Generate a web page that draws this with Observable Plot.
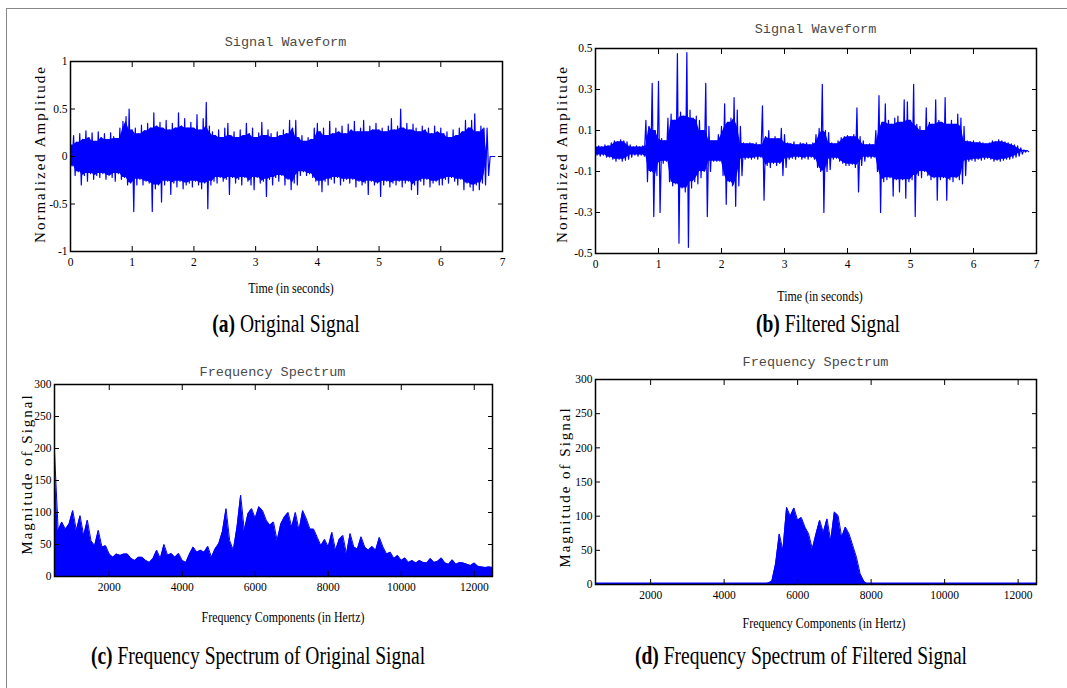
<!DOCTYPE html>
<html><head><meta charset="utf-8">
<script src="https://cdn.jsdelivr.net/npm/d3@7"></script>
<script src="https://cdn.jsdelivr.net/npm/@observablehq/plot@0.6"></script>
<style>
html,body{margin:0;padding:0;background:#fff;}
#fig{position:relative;width:1067px;height:688px;overflow:hidden;background:#fff;}
.abs{position:absolute;white-space:nowrap;line-height:1;}
.title{font-family:"Liberation Mono","DejaVu Sans Mono",monospace;font-size:13.5px;color:#4a4a4a;transform:translate(-50%,-50%);}
.xlab{font-family:"Liberation Serif",serif;font-size:14.5px;color:#000;transform:translate(-50%,-50%) scaleX(0.82);}
.ylab{font-family:"Liberation Serif",serif;font-size:15px;letter-spacing:2px;color:#000;transform:translate(-50%,-50%) rotate(-90deg);}
.cap{font-family:"Liberation Serif",serif;font-size:25px;color:#000;transform:translate(-50%,-50%) scaleX(0.78);}
.bt{position:absolute;left:6px;top:8px;width:1061px;height:0;border-top:1px solid #888;}
.bl{position:absolute;left:6px;top:8px;width:0;height:680px;border-left:1px solid #888;}
</style></head><body><div id="fig"><div class="bt"></div><div class="bl"></div></div>
<script>
// ---------- DATA ----------
const timeStep = 0.05; // seconds between envelope samples
const timeTicks = [0,1,2,3,4,5,6,7];
const ampTicksA = [-1,-0.5,0,0.5,1];
const ampTicksB = [-0.5,-0.3,-0.1,0.1,0.3,0.5];
const freqTicks = [2000,4000,6000,8000,10000,12000];
const magTicks = [0,50,100,150,200,250,300];

// (a) original signal: upper / lower excursions per 0.05 s
const origTop = [0.12,0.22,0.15,0.24,0.18,0.27,0.2,0.25,0.16,0.26,
 0.2,0.24,0.18,0.25,0.21,0.19,0.3,0.37,0.42,0.5,
 0.28,0.3,0.24,0.33,0.27,0.35,0.3,0.46,0.32,0.36,
 0.3,0.38,0.28,0.35,0.3,0.46,0.32,0.4,0.3,0.36,
 0.3,0.44,0.28,0.4,0.57,0.32,0.26,0.22,0.28,0.2,
 0.3,0.35,0.22,0.26,0.2,0.28,0.22,0.35,0.24,0.3,
 0.2,0.25,0.36,0.22,0.28,0.24,0.2,0.26,0.22,0.28,
 0.24,0.38,0.3,0.38,0.2,0.22,0.16,0.2,0.18,0.3,
 0.35,0.26,0.3,0.22,0.37,0.24,0.3,0.26,0.32,0.24,
 0.34,0.28,0.37,0.26,0.3,0.38,0.26,0.32,0.28,0.35,
 0.28,0.3,0.26,0.32,0.4,0.28,0.32,0.5,0.3,0.35,
 0.28,0.34,0.3,0.26,0.32,0.28,0.3,0.24,0.32,0.26,
 0.3,0.24,0.26,0.2,0.28,0.22,0.3,0.26,0.38,0.3,
 0.38,0.45,0.26,0.32,0.3,0.3,0,0];
const origBottom = [-0.1,-0.2,-0.16,-0.3,-0.2,-0.26,-0.18,-0.24,-0.2,-0.22,
 -0.18,-0.24,-0.2,-0.22,-0.26,-0.18,-0.24,-0.22,-0.3,-0.28,
 -0.58,-0.3,-0.24,-0.3,-0.26,-0.28,-0.58,-0.34,-0.3,-0.48,
 -0.3,-0.26,-0.4,-0.28,-0.32,-0.26,-0.34,-0.3,-0.28,-0.32,
 -0.26,-0.3,-0.34,-0.28,-0.55,-0.3,-0.26,-0.28,-0.22,-0.26,
 -0.24,-0.4,-0.22,-0.28,-0.24,-0.3,-0.22,-0.26,-0.3,-0.35,
 -0.22,-0.28,-0.26,-0.42,-0.24,-0.3,-0.22,-0.26,-0.2,-0.3,
 -0.24,-0.35,-0.28,-0.3,-0.2,-0.16,-0.2,-0.18,-0.22,-0.26,
 -0.3,-0.37,-0.26,-0.3,-0.24,-0.28,-0.22,-0.3,-0.26,-0.24,
 -0.28,-0.24,-0.32,-0.26,-0.3,-0.28,-0.4,-0.26,-0.3,-0.28,
 -0.42,-0.3,-0.26,-0.32,-0.28,-0.3,-0.26,-0.32,-0.28,-0.26,
 -0.35,-0.3,-0.4,-0.26,-0.3,-0.24,-0.32,-0.28,-0.26,-0.3,
 -0.3,-0.24,-0.28,-0.22,-0.26,-0.3,-0.24,-0.35,-0.28,-0.32,
 -0.36,-0.3,-0.35,-0.28,-0.3,-0.2,0,0];

// (b) filtered signal: upper / lower excursions per 0.05 s
const filtTop = [0.02,0.025,0.02,0.03,0.025,0.04,0.05,0.045,0.055,0.05,
 0.045,0.03,0.02,0.025,0.02,0.025,0.15,0.12,0.33,0.1,
 0.34,0.06,0.05,0.16,0.18,0.15,0.475,0.19,0.17,0.48,
 0.2,0.16,0.17,0.15,0.1,0.33,0.12,0.05,0.05,0.08,
 0.12,0.23,0.14,0.16,0.26,0.2,0.12,0.04,0.035,0.04,
 0.035,0.04,0.03,0.22,0.07,0.1,0.06,0.07,0.06,0.11,
 0.08,0.04,0.035,0.045,0.03,0.04,0.035,0.04,0.03,0.04,
 0.08,0.11,0.325,0.1,0.09,0.04,0.035,0.05,0.065,0.07,
 0.075,0.07,0.08,0.21,0.07,0.05,0.03,0.035,0.03,0.1,
 0.27,0.14,0.23,0.15,0.13,0.16,0.17,0.14,0.25,0.24,
 0.15,0.325,0.13,0.12,0.1,0.21,0.14,0.13,0.25,0.15,
 0.14,0.26,0.13,0.15,0.13,0.18,0.16,0.12,0.05,0.045,
 0.05,0.04,0.045,0.04,0.035,0.04,0.05,0.045,0.055,0.05,
 0.045,0.04,0.035,0.03,0.025,0.015,0.005,0.003];
const filtBottom = [-0.02,-0.025,-0.02,-0.03,-0.03,-0.04,-0.05,-0.04,-0.05,-0.045,
 -0.04,-0.03,-0.02,-0.025,-0.02,-0.025,-0.15,-0.1,-0.32,-0.12,
 -0.3,-0.06,-0.05,-0.15,-0.17,-0.16,-0.45,-0.18,-0.2,-0.47,
 -0.18,-0.15,-0.16,-0.13,-0.1,-0.32,-0.1,-0.05,-0.05,-0.05,
 -0.12,-0.26,-0.15,-0.17,-0.27,-0.17,-0.12,-0.04,-0.035,-0.04,
 -0.035,-0.04,-0.03,-0.24,-0.07,-0.08,-0.06,-0.07,-0.06,-0.12,
 -0.08,-0.04,-0.035,-0.04,-0.03,-0.04,-0.035,-0.04,-0.03,-0.04,
 -0.08,-0.1,-0.3,-0.1,-0.09,-0.04,-0.035,-0.05,-0.06,-0.07,
 -0.07,-0.065,-0.08,-0.2,-0.07,-0.05,-0.03,-0.035,-0.03,-0.1,
 -0.3,-0.15,-0.14,-0.13,-0.22,-0.14,-0.2,-0.14,-0.23,-0.15,
 -0.14,-0.32,-0.12,-0.13,-0.1,-0.12,-0.14,-0.13,-0.24,-0.14,
 -0.13,-0.24,-0.14,-0.15,-0.13,-0.14,-0.16,-0.12,-0.05,-0.045,
 -0.05,-0.04,-0.045,-0.04,-0.035,-0.04,-0.05,-0.045,-0.05,-0.045,
 -0.04,-0.04,-0.035,-0.03,-0.025,-0.015,-0.005,-0.003];

// (c) spectrum of original signal, 100 Hz bins from 500 Hz
const specStartC = 500, specStep = 100;
const specOrig = [195,72,85,74,82,103,72,95,64,88,
 56,48,72,46,48,35,30,35,33,35,
 35,28,25,30,30,25,22,28,41,28,
 50,33,36,30,36,25,22,35,46,38,
 41,38,47,30,43,51,70,106,56,41,
 77,127,72,98,106,91,109,103,88,80,
 85,56,82,93,100,77,100,72,103,90,
 74,74,61,48,58,46,69,41,58,64,
 35,67,46,43,62,46,41,47,41,61,
 46,35,38,28,33,25,29,22,25,21,
 25,22,21,28,22,24,29,21,19,26,
 19,22,21,19,17,21,16,15,14,15,
 14];
// (d) spectrum of filtered signal, 100 Hz bins from 5000 Hz (zero elsewhere)
const specStartD = 5000;
const specFilt = [0,1,2,5,30,74,50,113,100,112,
 94,98,84,74,52,74,94,76,96,64,
 106,101,69,84,74,57,40,16,5,0];

// ---------- BUILD ----------
const BLUE = "#0000ff";
const fig = document.getElementById("fig");
// smallest excursion among neighbouring samples: the solidly filled core
const floorOf = (arr, i, pick) => pick(arr[Math.max(0, i - 1)], arr[i], arr[Math.min(arr.length - 1, i + 1)]);
function wave(top, bottom) {
  const pts = [];
  top.forEach((v, i) => {
    const t = i * timeStep;
    pts.push({t, v});
    pts.push({t: t + timeStep / 2, v: bottom[i]});
  });
  return pts;
}
function core(top, bottom) {
  return top.map((v, i) => ({t: i * timeStep, hi: floorOf(top, i, Math.min), lo: floorOf(bottom, i, Math.max)}));
}
function spec(values, start) {
  return values.map((v, i) => ({f: start + i * specStep, v}));
}
const fmt = d => String(d);
function panel(frame, xDomain, yDomain, xTicks, yTicks, marks) {
  const [x0, y0, x1, y1] = frame;
  const mL = 45, mR = 12, mT = 10, mB = 28;
  const svg = Plot.plot({
    width: x1 - x0 + mL + mR, height: y1 - y0 + mT + mB,
    marginLeft: mL, marginRight: mR, marginTop: mT, marginBottom: mB,
    style: {fontFamily: '"Liberation Serif", serif', fontSize: "11.5px", color: "#000", background: "transparent", overflow: "visible"},
    x: {domain: xDomain}, y: {domain: yDomain},
    marks: [
      ...marks,
      Plot.frame({stroke: "#000", strokeWidth: 1.5}),
      Plot.axisX(xTicks, {anchor: "bottom", tickSize: 0, tickPadding: 6, tickFormat: fmt, label: null}),
      Plot.axisY(yTicks, {anchor: "left", tickSize: 0, tickPadding: 3, tickFormat: fmt, label: null}),
      Plot.axisX(xTicks, {anchor: "bottom", tickSize: 5, dy: -5, tickFormat: () => "", label: null}),
      Plot.axisX(xTicks, {anchor: "top", tickSize: 5, dy: 5, tickFormat: () => "", label: null}),
      Plot.axisY(yTicks, {anchor: "left", tickSize: 5, dx: 5, tickFormat: () => "", label: null}),
      Plot.axisY(yTicks, {anchor: "right", tickSize: 5, dx: -5, tickFormat: () => "", label: null})
    ]
  });
  svg.style.position = "absolute";
  svg.style.left = (x0 - mL) + "px";
  svg.style.top = (y0 - mT) + "px";
  fig.appendChild(svg);
}

panel([70, 61, 502, 251], [0, 7], [-1, 1], timeTicks, ampTicksA, [
  Plot.areaY(core(origTop, origBottom), {x: "t", y1: "lo", y2: "hi", fill: BLUE, clip: true}),
  Plot.line(wave(origTop, origBottom), {x: "t", y: "v", stroke: BLUE, strokeWidth: 1.2, clip: true})
]);
panel([595, 48, 1036, 253], [0, 7], [-0.5, 0.5], timeTicks, ampTicksB, [
  Plot.areaY(core(filtTop, filtBottom), {x: "t", y1: "lo", y2: "hi", fill: BLUE, clip: true}),
  Plot.line(wave(filtTop, filtBottom), {x: "t", y: "v", stroke: BLUE, strokeWidth: 1.2, clip: true})
]);
const sc = spec(specOrig, specStartC);
panel([54, 384, 492, 576], [500, 12500], [0, 300], freqTicks, magTicks, [
  Plot.areaY(sc, {x: "f", y: "v", fill: BLUE, clip: true}),
  Plot.lineY(sc, {x: "f", y: "v", stroke: BLUE, strokeWidth: 1, clip: true})
]);
const sd = spec(specFilt, specStartD);
panel([595, 379, 1036, 584], [500, 12500], [0, 300], freqTicks, magTicks, [
  Plot.areaY(sd, {x: "f", y: "v", fill: BLUE, clip: true}),
  Plot.lineY(sd, {x: "f", y: "v", stroke: BLUE, strokeWidth: 1, clip: true}),
  Plot.ruleY([0], {stroke: BLUE, strokeWidth: 2, dy: -1})
]);

// ---------- TEXT ----------
const texts = [
  ["title", 285.5, 43, "Signal Waveform"],
  ["title", 815.5, 30, "Signal Waveform"],
  ["title", 272.5, 373, "Frequency Spectrum"],
  ["title", 815.5, 363, "Frequency Spectrum"],
  ["xlab", 291, 288, "Time (in seconds)"],
  ["xlab", 820, 296, "Time (in seconds)"],
  ["xlab", 283, 617, "Frequency Components (in Hertz)"],
  ["xlab", 823.5, 623, "Frequency Components (in Hertz)"],
  ["ylab", 40, 154, "Normalized Amplitude"],
  ["ylab", 562, 154, "Normalized Amplitude"],
  ["ylab", 27, 474, "Magnitude of Signal"],
  ["ylab", 565, 487, "Magnitude of Signal"]
];
texts.forEach(([cls, x, y, s]) => {
  const d = document.createElement("div");
  d.className = "abs " + cls;
  d.style.left = x + "px"; d.style.top = y + "px";
  d.textContent = s;
  fig.appendChild(d);
});
const caps = [
  [285.5, 323, "(a)", " Original Signal"],
  [828, 323, "(b)", " Filtered Signal"],
  [258, 655, "(c)", " Frequency Spectrum of Original Signal"],
  [801, 655, "(d)", " Frequency Spectrum of Filtered Signal"]
];
caps.forEach(([x, y, a, s]) => {
  const d = document.createElement("div");
  d.className = "abs cap";
  d.style.left = x + "px"; d.style.top = y + "px";
  const b = document.createElement("b"); b.textContent = a;
  d.appendChild(b); d.appendChild(document.createTextNode(s));
  fig.appendChild(d);
});
</script></body></html>
